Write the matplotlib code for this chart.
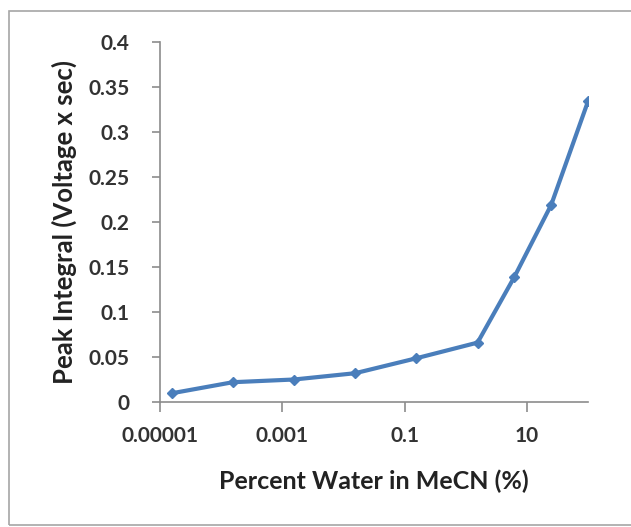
import matplotlib.pyplot as plt
from matplotlib.patches import Rectangle

# data
water_pct = [0.0000156, 0.000156, 0.00156, 0.0156, 0.156, 1.5625, 6.25, 25, 100]
peak_int = [0.0097, 0.022, 0.025, 0.032, 0.0486, 0.066, 0.139, 0.219, 0.334]
xticks = [0.00001, 0.001, 0.1, 10]
xtick_labels = ['0.00001', '0.001', '0.1', '10']
yticks = [0, 0.05, 0.1, 0.15, 0.2, 0.25, 0.3, 0.35, 0.4]
ytick_labels = ['0', '0.05', '0.1', '0.15', '0.2', '0.25', '0.3', '0.35', '0.4']

plt.rcParams['font.family'] = ['Lato', 'DejaVu Sans']

fig = plt.figure(figsize=(6.31, 5.27), dpi=100)
# chart area border
fig.patches.append(Rectangle((9 / 631, 2 / 527), 630 / 631, 514 / 527,
                             transform=fig.transFigure, fill=False,
                             edgecolor='#a6a6a6', linewidth=1.2))

ax = fig.add_axes([160 / 631, 1 - 402 / 527, 428 / 631, 360 / 527])
ax.plot(water_pct, peak_int, color='#4a7ebb', linewidth=3,
        marker='D', markersize=5, markerfacecolor='#4a7ebb', markeredgecolor='#4a7ebb')

ax.set_xscale('log')
ax.set_xlim(0.00001, 100)
ax.set_ylim(0, 0.4)
ax.set_xticks(xticks)
ax.set_xticklabels(xtick_labels)
ax.minorticks_off()
ax.set_yticks(yticks)
ax.set_yticklabels(ytick_labels)

for s in ['top', 'right']:
    ax.spines[s].set_visible(False)
for s in ['left', 'bottom']:
    ax.spines[s].set_color('#8c8c8c')
    ax.spines[s].set_linewidth(1.2)
ax.tick_params(axis='both', direction='out', width=1.2, color='#8c8c8c',
               labelsize=15, labelcolor='#333333')
ax.tick_params(axis='x', length=7, pad=10)
ax.tick_params(axis='y', length=6, pad=16)
for t in ax.get_xticklabels() + ax.get_yticklabels():
    t.set_fontweight('bold')

ax.set_xlabel('Percent Water in MeCN (%)', fontsize=18, fontweight='bold',
              color='#222222', labelpad=17)
ax.set_ylabel('Peak Integral (Voltage x sec)', fontsize=18.5, fontweight='bold',
              color='#222222', labelpad=8)

fig.savefig('out.png', dpi=100)
